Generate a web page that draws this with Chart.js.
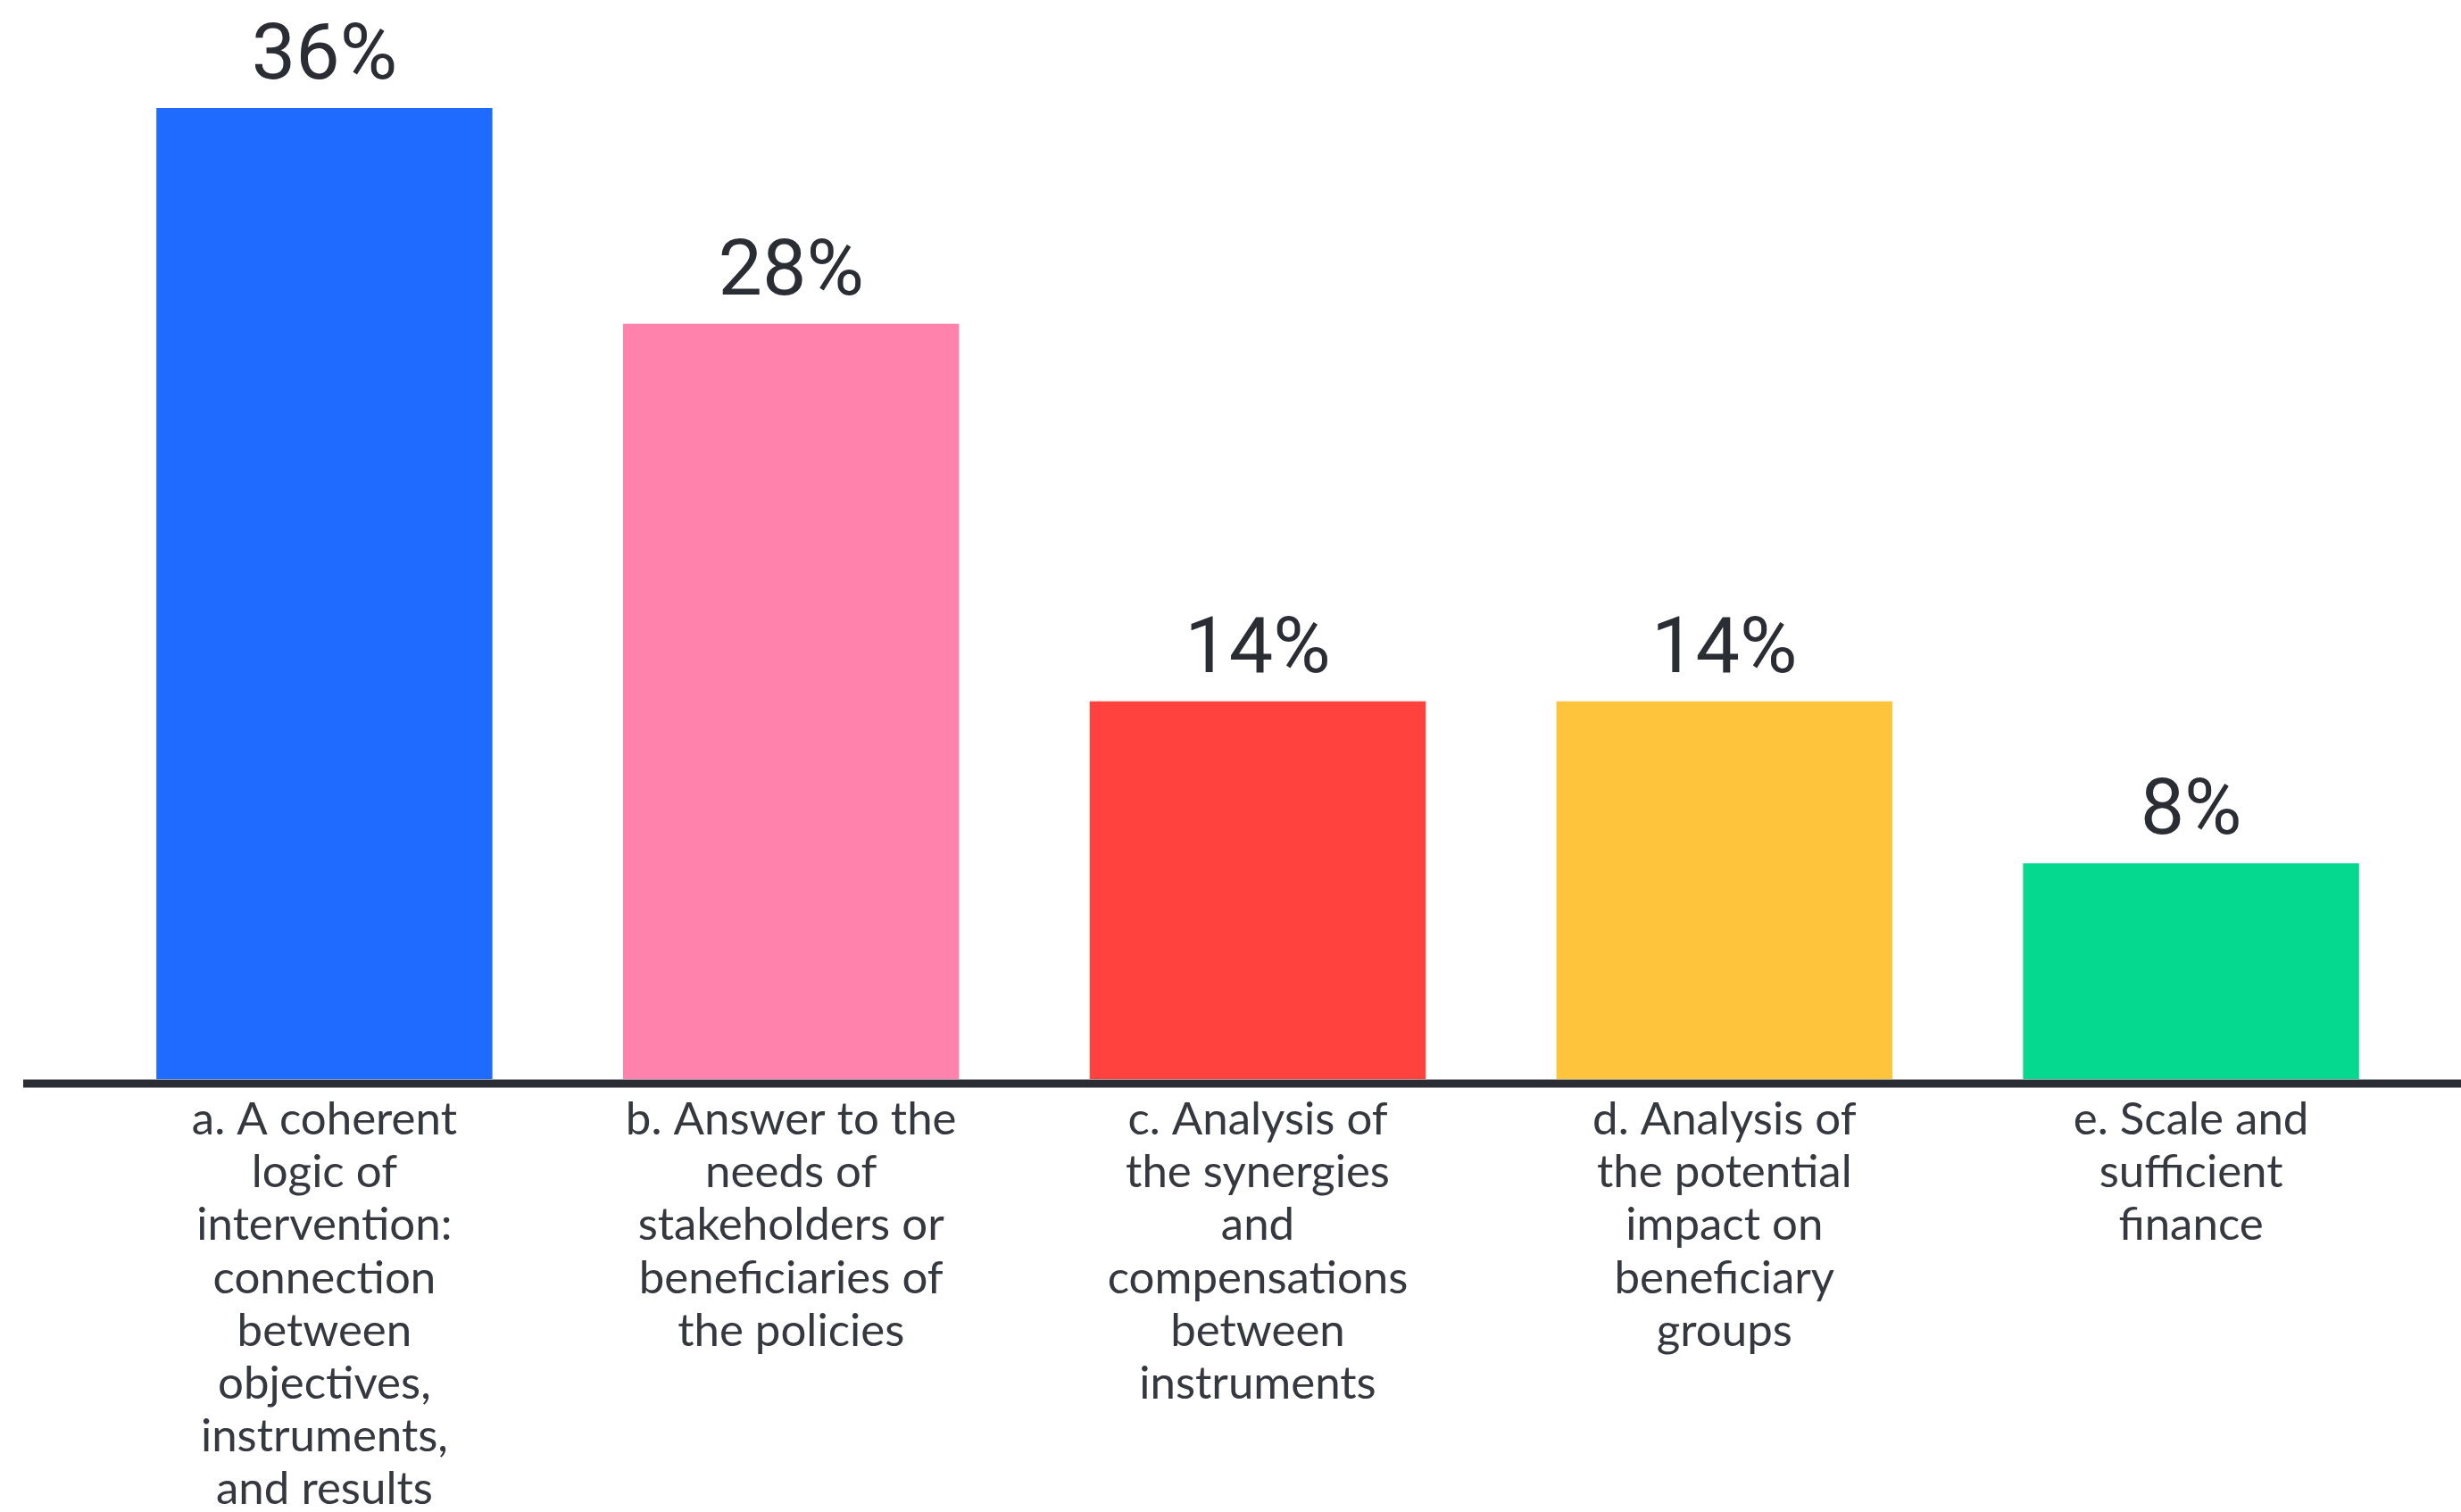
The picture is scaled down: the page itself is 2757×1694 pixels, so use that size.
<!DOCTYPE html>
<html>
<head>
<meta charset="utf-8">
<script src="https://cdn.jsdelivr.net/npm/chart.js@4"></script>
<style>
  html, body { margin: 0; padding: 0; background: #fff; }
  #wrap { width: 2757px; height: 1694px; position: relative; }
</style>
</head>
<body>
<div id="wrap"><canvas id="grafico"></canvas></div>
<script>
// dados do gráfico
const categorias = [
    ['a. A coherent', 'logic of', 'intervention:', 'connection', 'between', 'objectives,', 'instruments,', 'and results'],
    ['b. Answer to the', 'needs of', 'stakeholders or', 'beneficiaries of', 'the policies'],
    ['c. Analysis of', 'the synergies', 'and', 'compensations', 'between', 'instruments'],
    ['d. Analysis of', 'the potential', 'impact on', 'beneficiary', 'groups'],
    ['e. Scale and', 'sufficient', 'finance']
];
const valores = [36, 28, 14, 14, 8];
const cores = ['#1f6bff', '#ff82ac', '#ff423d', '#fec43b', '#04d98f'];

// rótulos de valor acima das barras
const rotulosValor = {
    id: 'rotulosValor',
    afterDatasetsDraw(chart) {
        const ctx = chart.ctx;
        ctx.save();
        ctx.font = '88px Roboto';
        ctx.fillStyle = '#2a2d33';
        ctx.textAlign = 'center';
        ctx.textBaseline = 'alphabetic';
        chart.getDatasetMeta(0).data.forEach((barra, i) => {
            ctx.fillText(valores[i] + '%', barra.x, barra.y - 33);
        });
        ctx.restore();
    }
};

// linha de base que atravessa toda a largura
const linhaBase = {
    id: 'linhaBase',
    afterDatasetsDraw(chart) {
        const ctx = chart.ctx;
        const y = chart.chartArea.bottom + 5;
        ctx.save();
        ctx.strokeStyle = '#2a2d33';
        ctx.lineWidth = 9;
        ctx.beginPath();
        ctx.moveTo(26, y);
        ctx.lineTo(chart.width, y);
        ctx.stroke();
        ctx.restore();
    }
};

const ctx = document.getElementById('grafico').getContext('2d');
const meuGrafico = new Chart(ctx, {
    type: 'bar',
    data: {
        labels: categorias,
        datasets: [{
            data: valores,
            backgroundColor: cores,
            borderWidth: 0,
            categoryPercentage: 1,
            barPercentage: 0.72
        }]
    },
    plugins: [rotulosValor, linhaBase],
    options: {
        responsive: true,
        maintainAspectRatio: false,
        devicePixelRatio: 1,
        animation: false,
        layout: { padding: { left: 102, right: 41, top: 0, bottom: 0 } },
        plugins: {
            legend: { display: false },
            tooltip: { enabled: false }
        },
        scales: {
            x: {
                grid: { display: false, drawTicks: false },
                border: { display: false },
                ticks: {
                    color: '#35383f',
                    padding: 16,
                    maxRotation: 0,
                    autoSkip: false,
                    font: { family: 'Lato', size: 51, lineHeight: 1.16 }
                },
                afterFit(scale) {
                    scale.height = 485;
                }
            },
            y: {
                display: false,
                min: 0,
                max: 40
            }
        }
    }
});
</script>
</body>
</html>
